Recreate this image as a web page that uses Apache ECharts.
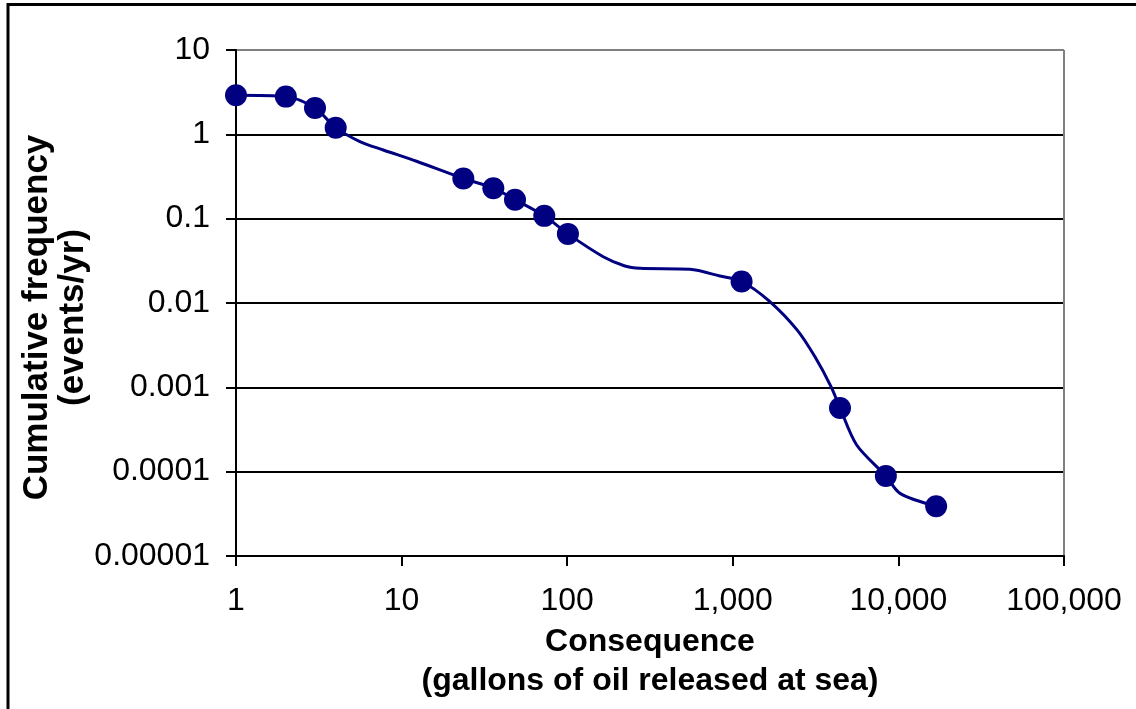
<!DOCTYPE html>
<html>
<head>
<meta charset="utf-8">
<script src="https://cdn.jsdelivr.net/npm/echarts@6/dist/echarts.min.js"></script>
<style>
html,body{margin:0;padding:0;background:#fff;}
#chart{width:1136px;height:709px;}
</style>
</head>
<body>
<div id="chart"></div>
<script>
// Marked points (gallons released, cumulative frequency events/yr)
const markedX = [1, 2, 3, 4, 23.6, 35.8, 48.4, 72.7, 101, 1130, 4440, 8400, 16900];
const markedY = [2.9, 2.8, 2.05, 1.2, 0.30, 0.23, 0.168, 0.108, 0.066, 0.018, 0.00057, 0.000089, 0.000039];

// Points along the smoothed curve (including unmarked ones)
const curveX = [1, 2, 3, 4, 5.6, 7.75, 12.3, 23.6, 35.8, 48.4, 72.7, 101, 165, 223, 275, 551, 837, 1130, 1655, 2443, 3135, 3918, 4440, 5598, 8400, 10230, 16900];
const curveY = [2.9, 2.8, 2.05, 1.2, 0.82, 0.652, 0.48, 0.30, 0.23, 0.168, 0.108, 0.066, 0.0354, 0.0275, 0.0258, 0.0251, 0.0209, 0.018, 0.0106, 0.0048, 0.0023, 0.00102, 0.00057, 0.000207, 0.000089, 0.0000553, 0.000039];

// Tick labels by decade exponent
const xTickLabels = ['1', '10', '100', '1,000', '10,000', '100,000'];   // exponents 0..5
const yTickLabels = ['0.00001', '0.0001', '0.001', '0.01', '0.1', '1', '10']; // exponents -5..1

const xTitle = 'Consequence\n(gallons of oil released at sea)';
const yTitle = 'Cumulative frequency\n(events/yr)';

const FONT = '"Liberation Sans", Arial, sans-serif';
const NAVY = '#000080';

const chart = echarts.init(document.getElementById('chart'), null, {renderer: 'canvas'});

const curveData = curveX.map((x, i) => [x, curveY[i]]);
const markedData = markedX.map((x, i) => [x, markedY[i]]);

const option = {
  backgroundColor: '#fff',
  animation: false,
  grid: {left: 236, right: 72, top: 50, bottom: 153, containLabel: false},
  xAxis: {
    type: 'log',
    logBase: 10,
    min: 1,
    max: 100000,
    axisLine: {show: true, onZero: false, lineStyle: {color: '#000', width: 2}},
    axisTick: {show: true, inside: false, length: 10, lineStyle: {color: '#000', width: 2}},
    minorTick: {show: false},
    axisLabel: {
      margin: 29,
      color: '#000',
      fontFamily: FONT,
      fontSize: 32,
      formatter: function (v) {
        const e = Math.round(Math.log10(v));
        return xTickLabels[e] !== undefined ? xTickLabels[e] : '';
      }
    },
    splitLine: {
      show: true,
      lineStyle: {color: ['rgba(0,0,0,0)', 'rgba(0,0,0,0)', 'rgba(0,0,0,0)', 'rgba(0,0,0,0)', 'rgba(0,0,0,0)', '#808080'], width: 2}
    }
  },
  yAxis: {
    type: 'log',
    logBase: 10,
    min: 0.00001,
    max: 10,
    axisLine: {show: true, onZero: false, lineStyle: {color: '#000', width: 2}},
    axisTick: {show: true, inside: false, length: 10, lineStyle: {color: '#000', width: 2}},
    minorTick: {show: false},
    axisLabel: {
      margin: 26,
      color: '#000',
      fontFamily: FONT,
      fontSize: 32,
      formatter: function (v) {
        const e = Math.round(Math.log10(v));
        return yTickLabels[e + 5] !== undefined ? yTickLabels[e + 5] : '';
      }
    },
    splitLine: {
      show: true,
      lineStyle: {color: ['#000', '#000', '#000', '#000', '#000', '#000', '#808080'], width: 2}
    }
  },
  series: [
    {
      type: 'line',
      data: curveData,
      smooth: 0.3,
      showSymbol: false,
      symbol: 'none',
      lineStyle: {color: NAVY, width: 3},
      z: 2
    },
    {
      type: 'scatter',
      data: markedData,
      symbol: 'circle',
      symbolSize: 22,
      itemStyle: {color: NAVY, opacity: 1},
      z: 3
    }
  ],
  graphic: [
    {
      type: 'rect',
      shape: {x: 8, y: 4.5, width: 1300, height: 900},
      style: {fill: 'none', stroke: '#000', lineWidth: 3},
      z: 100
    },
    {
      type: 'text',
      x: 650,
      y: 661.5,
      style: {
        text: xTitle,
        fontFamily: FONT,
        fontWeight: 'bold',
        fontSize: 32,
        lineHeight: 39,
        fill: '#000',
        align: 'center',
        verticalAlign: 'middle'
      }
    },
    {
      type: 'text',
      x: 55.5,
      y: 317.5,
      rotation: Math.PI / 2,
      style: {
        text: yTitle,
        fontFamily: FONT,
        fontWeight: 'bold',
        fontSize: 35,
        lineHeight: 36,
        fill: '#000',
        align: 'center',
        verticalAlign: 'middle'
      }
    }
  ]
};

chart.setOption(option);
</script>
</body>
</html>
